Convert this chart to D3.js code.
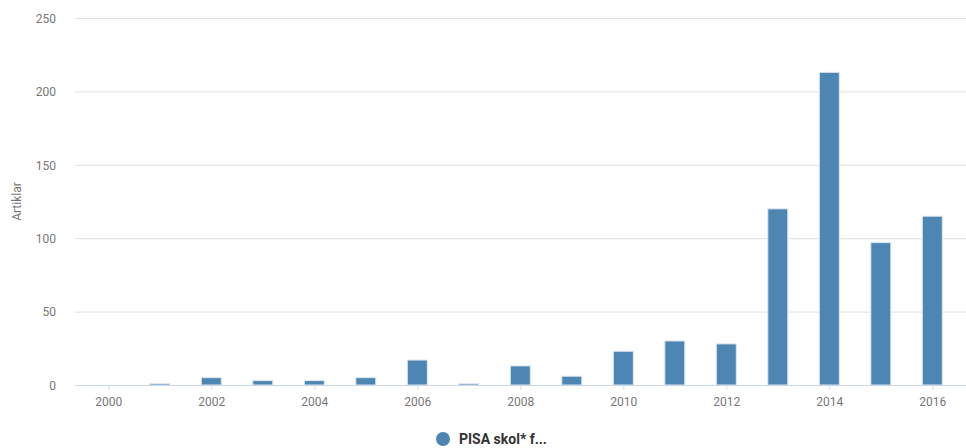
<!DOCTYPE html>
<html>
<head>
<meta charset="utf-8">
<script src="https://cdn.jsdelivr.net/npm/d3@7"></script>
<style>
  body { margin: 0; background: #fff; }
  svg text { font-family: Roboto, "Open Sans", sans-serif; }
</style>
</head>
<body>
<svg id="chart" width="966" height="448"></svg>
<script>
// data
var years = [2000, 2001, 2002, 2003, 2004, 2005, 2006, 2007, 2008,
             2009, 2010, 2011, 2012, 2013, 2014, 2015, 2016];
var articles = [0, 1, 5, 3, 3, 5, 17, 1, 13, 6, 23, 30, 28, 120, 213, 97, 115];
var yTicks = [0, 50, 100, 150, 200, 250];
var xTicks = [2000, 2002, 2004, 2006, 2008, 2010, 2012, 2014, 2016];
var seriesName = "PISA skol* f...";
var yTitle = "Artiklar";

var svg = d3.select("#chart");
var plotLeft = 75, plotRight = 966, plotTop = 18, plotBottom = 385;

var x = d3.scaleLinear().domain([2000, 2016]).range([108.3, 932.3]);
var y = d3.scaleLinear().domain([0, 250]).range([plotBottom, plotTop]);
var barW = 20;

// grid lines
svg.append("g").selectAll("line")
  .data(yTicks.filter(function(d) { return d > 0; }))
  .join("line")
    .attr("x1", plotLeft).attr("x2", plotRight)
    .attr("y1", function(d) { return y(d) + 0.5; })
    .attr("y2", function(d) { return y(d) + 0.5; })
    .style("stroke", "#e0e0e0")
    .style("stroke-width", 1);

// y labels
var yAxis = d3.axisLeft(y).tickValues(yTicks).tickSize(0).tickPadding(0);
var gy = svg.append("g").attr("transform", "translate(56,0)").call(yAxis);
gy.select(".domain").remove();
gy.selectAll("text")
  .attr("dy", "0.35em")
  .style("font-size", "12px")
  .style("fill", "#777");

svg.append("text")
  .attr("transform", "translate(21," + ((plotTop + plotBottom) / 2) + ") rotate(-90)")
  .attr("text-anchor", "middle")
  .style("font-size", "12px")
  .style("fill", "#777")
  .text(yTitle);

// bars
svg.append("g").selectAll("rect")
  .data(years)
  .join("rect")
    .attr("x", function(d) { return x(d) - barW / 2; })
    .attr("width", barW)
    .attr("y", function(d, i) { return y(articles[i]); })
    .attr("height", function(d, i) { return plotBottom - y(articles[i]); })
    .style("fill", "#4d85b3")
    .style("stroke", "#dfe8f2")
    .style("stroke-width", 1);

// x axis
svg.append("line")
  .attr("x1", plotLeft).attr("x2", plotRight)
  .attr("y1", plotBottom + 0.5).attr("y2", plotBottom + 0.5)
  .style("stroke", "#ccd6eb");

var xAxis = d3.axisBottom(x).tickValues(xTicks).tickFormat(d3.format("d")).tickSize(4).tickPadding(8);
var gx = svg.append("g").attr("transform", "translate(0," + (plotBottom + 0.5) + ")").call(xAxis);
gx.select(".domain").remove();
gx.selectAll("line").style("stroke", "#ccd6eb");
gx.selectAll("text")
  .style("font-size", "12px")
  .style("fill", "#777");

// legend
var legend = svg.append("g").attr("transform", "translate(443,439)");
legend.append("circle").attr("r", 7).style("fill", "#4d85b3");
legend.append("text")
  .attr("x", 16).attr("dy", "0.35em")
  .style("font-size", "14px")
  .style("font-weight", "bold")
  .style("fill", "#333")
  .text(seriesName);
</script>
</body>
</html>
